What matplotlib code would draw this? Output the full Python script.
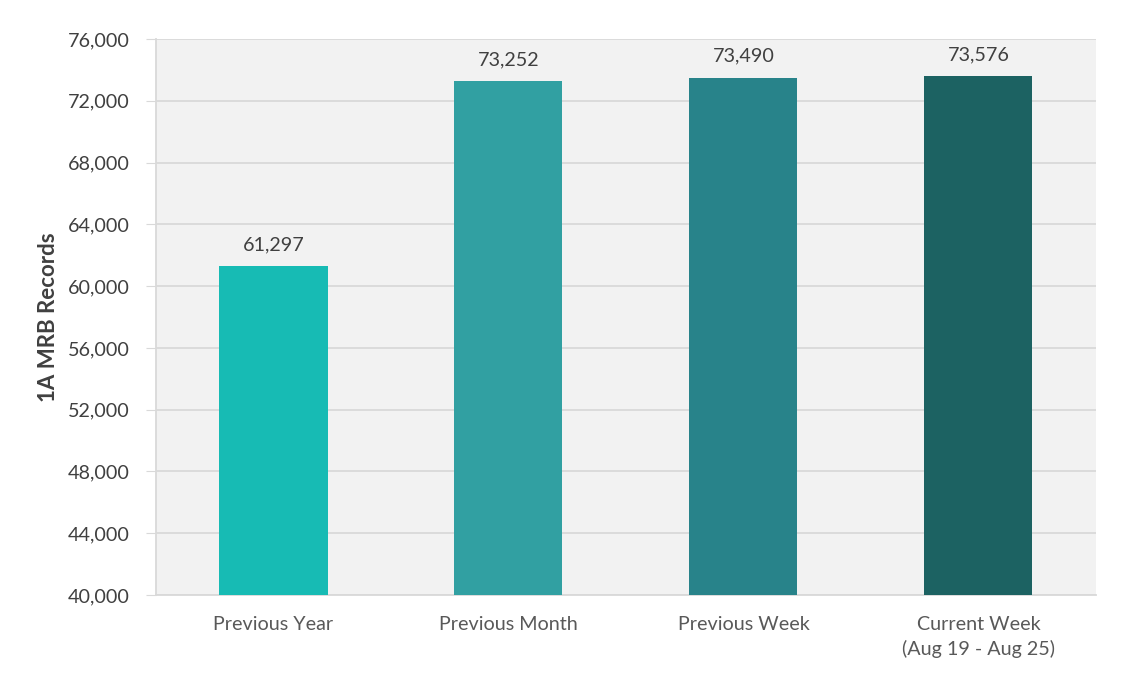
import matplotlib.pyplot as plt
from matplotlib.ticker import FuncFormatter

categories = ["Previous Year", "Previous Month", "Previous Week", "Current Week\n(Aug 19 - Aug 25)"]
values = [61297, 73252, 73490, 73576]
colors = ["#17BBB4", "#31A0A2", "#28838A", "#1C6262"]

plt.rcParams["font.family"] = ["Lato", "DejaVu Sans"]

fig = plt.figure(figsize=(11.27, 6.77), dpi=100)
ax = fig.add_axes([0.1384, 0.1211, 0.834, 0.8213])
ax.set_facecolor("#F2F2F2")

x = range(len(categories))
bars = ax.bar(x, values, width=0.46, color=colors, zorder=3)

for xi, v in zip(x, values):
    ax.text(xi, v + 850, f"{v:,}", ha="center", va="bottom", fontsize=14.2, color="#404040")

ax.set_ylim(40000, 76000)
ax.set_xlim(-0.5, len(categories) - 0.5)
ax.set_yticks(range(40000, 76001, 4000))
ax.yaxis.set_major_formatter(FuncFormatter(lambda v, _: f"{int(v):,}"))
ax.set_xticks(list(x))
ax.set_xticklabels(categories, linespacing=1.45)

ax.grid(axis="y", color="#D9D9D9", linewidth=1.3, zorder=0)
for side in ["top", "right"]:
    ax.spines[side].set_visible(False)
ax.spines["left"].set_color("#D9D9D9")
ax.spines["bottom"].set_color("#D9D9D9")
ax.spines["left"].set_linewidth(1.3)
ax.spines["bottom"].set_linewidth(1.3)

ax.tick_params(axis="y", length=7, color="#D9D9D9", labelsize=14.2, labelcolor="#404040", pad=12)
ax.tick_params(axis="x", length=0, labelsize=14.2, labelcolor="#595959", pad=15)

ax.set_ylabel("1A MRB Records", fontsize=16, fontweight="bold", color="#404040", labelpad=6)

fig.savefig("out.png", dpi=100, facecolor="white")
